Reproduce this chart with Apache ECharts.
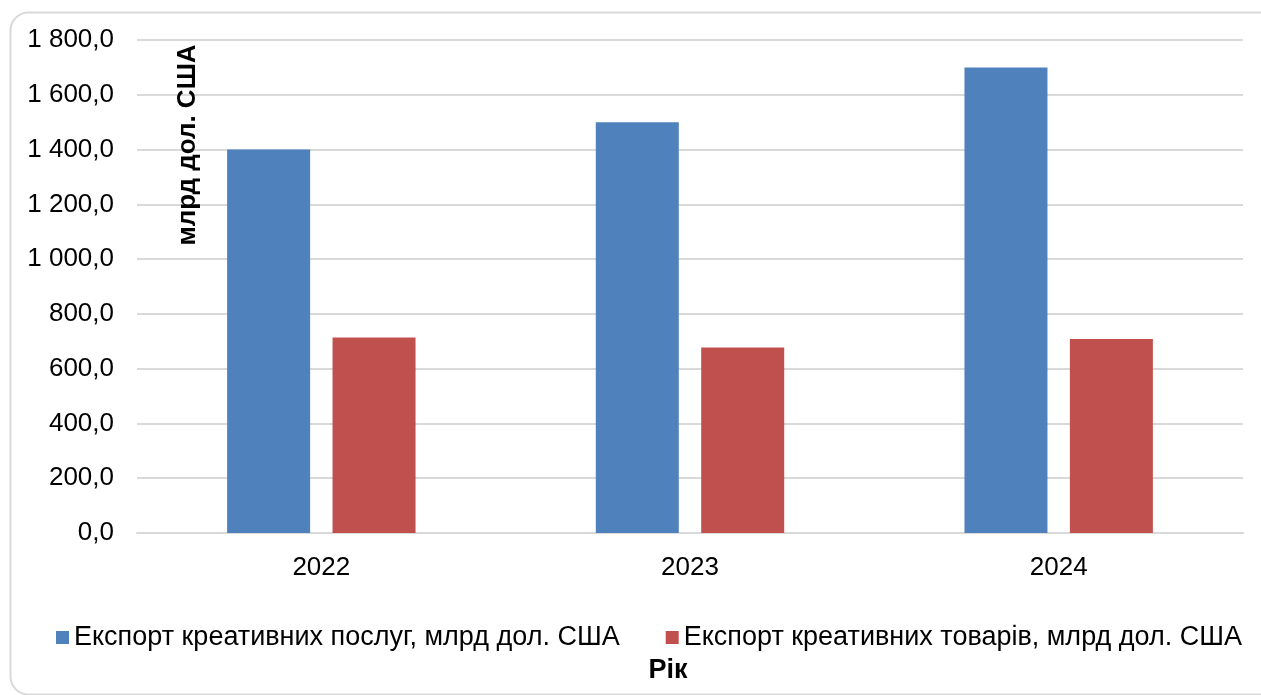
<!DOCTYPE html>
<html>
<head>
<meta charset="utf-8">
<script src="https://cdn.jsdelivr.net/npm/echarts@6/dist/echarts.min.js"></script>
<style>
html,body{margin:0;padding:0;background:#fff;}
#chart{width:1261px;height:695px;}
</style>
</head>
<body>
<div id="chart"></div>
<script>
const categories = ['2022', '2023', '2024'];
const servicesName = 'Експорт креативних послуг, млрд дол. США';
const goodsName = 'Експорт креативних товарів, млрд дол. США';
const servicesValues = [1400, 1500, 1700];
const goodsValues = [714, 677, 708];
const yAxisTitle = 'млрд дол. США';
const xAxisTitle = 'Рік';

function fmt(v) {
  const s = v.toFixed(1).replace('.', ',');
  const parts = s.split(',');
  const intPart = parts[0].replace(/\B(?=(\d{3})+(?!\d))/g, ' ');
  return intPart + ',' + parts[1];
}

const chart = echarts.init(document.getElementById('chart'));
const font = 'Liberation Sans, Arial, sans-serif';
chart.setOption({
  animation: false,
  textStyle: { fontFamily: font },
  grid: { left: 137, right: 18, top: 40, bottom: 162, containLabel: false },
  legend: {
    left: 51, top: 619,
    itemWidth: 13, itemHeight: 13, itemGap: 46,
    icon: 'rect',
    textStyle: { fontSize: 27, color: '#000', fontFamily: font, padding: [0, 0, 0, 0] },
    data: [servicesName, goodsName]
  },
  xAxis: {
    type: 'category',
    data: categories,
    axisLine: { lineStyle: { color: '#d9d9d9', width: 2 } },
    axisTick: { show: false },
    axisLabel: { fontSize: 26, color: '#000', margin: 22, fontFamily: font }
  },
  yAxis: {
    type: 'value',
    min: 0, max: 1800, interval: 200,
    axisLine: { show: false },
    axisTick: { show: false },
    splitLine: { lineStyle: { color: '#d9d9d9', width: 2 } },
    axisLabel: { fontSize: 26, color: '#000', margin: 23, fontFamily: font, formatter: fmt }
  },
  series: [
    { name: servicesName, type: 'bar', data: servicesValues, barWidth: 83, barGap: '27%',
      itemStyle: { color: '#4F81BD' } },
    { name: goodsName, type: 'bar', data: goodsValues, barWidth: 83,
      itemStyle: { color: '#C0504D' } }
  ],
  graphic: [
    { type: 'rect', left: 8, top: 10, silent: true, z: -10,
      shape: { width: 1270, height: 682, r: 18 },
      style: { fill: 'none', stroke: '#d9d9d9', lineWidth: 2 } },
    { type: 'text', x: 188, y: 145, rotation: Math.PI / 2, z: 10,
      style: { text: yAxisTitle, fontSize: 26, fontWeight: 'bold', fill: '#000', fontFamily: font,
        align: 'center', verticalAlign: 'middle' } },
    { type: 'text', x: 668, y: 671, z: 10,
      style: { text: xAxisTitle, fontSize: 27, fontWeight: 'bold', fill: '#000', fontFamily: font,
        align: 'center', verticalAlign: 'middle' } }
  ]
});
</script>
</body>
</html>
